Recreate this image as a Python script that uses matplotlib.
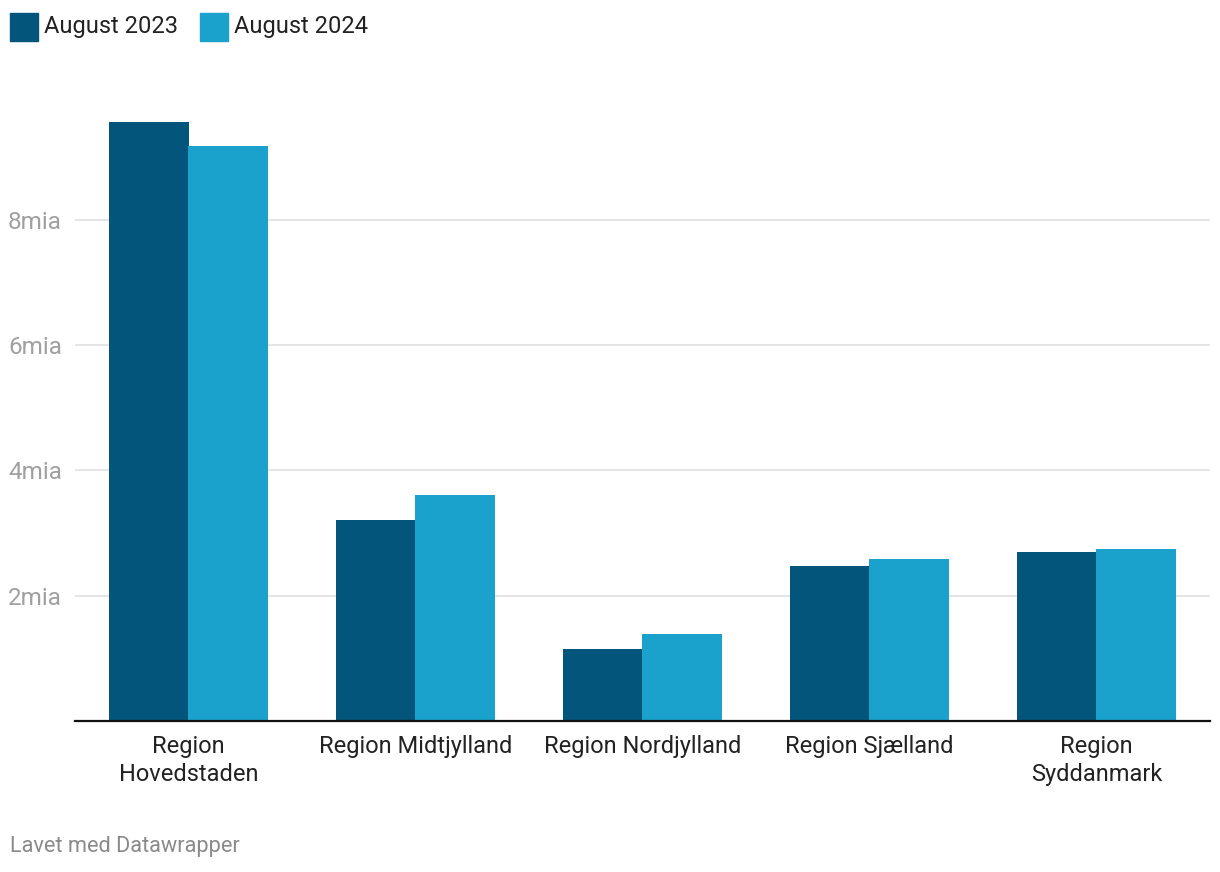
import matplotlib
matplotlib.use("Agg")
import matplotlib.pyplot as plt
from matplotlib.patches import Rectangle
import numpy as np

plt.rcParams['font.family'] = ['Roboto', 'DejaVu Sans']

# data (milliarder kr.)
regions = ["Region\nHovedstaden", "Region Midtjylland", "Region Nordjylland",
           "Region Sjælland", "Region\nSyddanmark"]
aug_2023 = [9.56, 3.21, 1.15, 2.47, 2.70]
aug_2024 = [9.18, 3.61, 1.39, 2.59, 2.75]
series_names = ["August 2023", "August 2024"]
colors = ["#03557b", "#1aa1cc"]
yticks = [2, 4, 6, 8]
ytick_labels = ["2mia", "4mia", "6mia", "8mia"]

W, H = 1220, 872
fig = plt.figure(figsize=(W / 100, H / 100), dpi=100)
ax = fig.add_axes([75 / W, (H - 721) / H, (1210 - 75) / W, 626.5 / H])

x = np.arange(len(regions))
bw = 0.35
ax.bar(x - bw / 2, aug_2023, width=bw, color=colors[0], linewidth=0, zorder=2)
ax.bar(x + bw / 2 - 0.002, aug_2024, width=bw + 0.002, color=colors[1], linewidth=0, zorder=2)

ax.set_xlim(-0.5, len(regions) - 0.5)
ax.set_ylim(0, 10)

# grid + labels
ax.set_yticks(yticks)
ax.set_yticklabels(ytick_labels)
ax.tick_params(axis="y", length=0, pad=9.4, labelsize=17.5, labelcolor="#a0a0a0")
ax.yaxis.grid(True, color="#e3e3e3", linewidth=1.3, zorder=0)
ax.set_axisbelow(True)

ax.set_xticks(x)
ax.set_xticklabels(regions, linespacing=1.3)
ax.tick_params(axis="x", length=0, pad=10, labelsize=17, labelcolor="#222222")

for side in ["top", "right", "left"]:
    ax.spines[side].set_visible(False)
ax.spines["bottom"].set_color("#111111")
ax.spines["bottom"].set_linewidth(1.6)

# legend at top left
lx = [10, 200]
for i, name in enumerate(series_names):
    fig.add_artist(Rectangle((lx[i] / W, (H - 41) / H), 28 / W, 28 / H,
                             transform=fig.transFigure, color=colors[i]))
    fig.text((lx[i] + 34) / W, (H - 27) / H, name, fontsize=17,
             color="#222222", va="center", ha="left")

fig.text(10 / W, (H - 846) / H, "Lavet med Datawrapper", fontsize=15.7,
         color="#8a8a8a", va="center", ha="left")

fig.savefig("out.png", dpi=100, facecolor="white")
